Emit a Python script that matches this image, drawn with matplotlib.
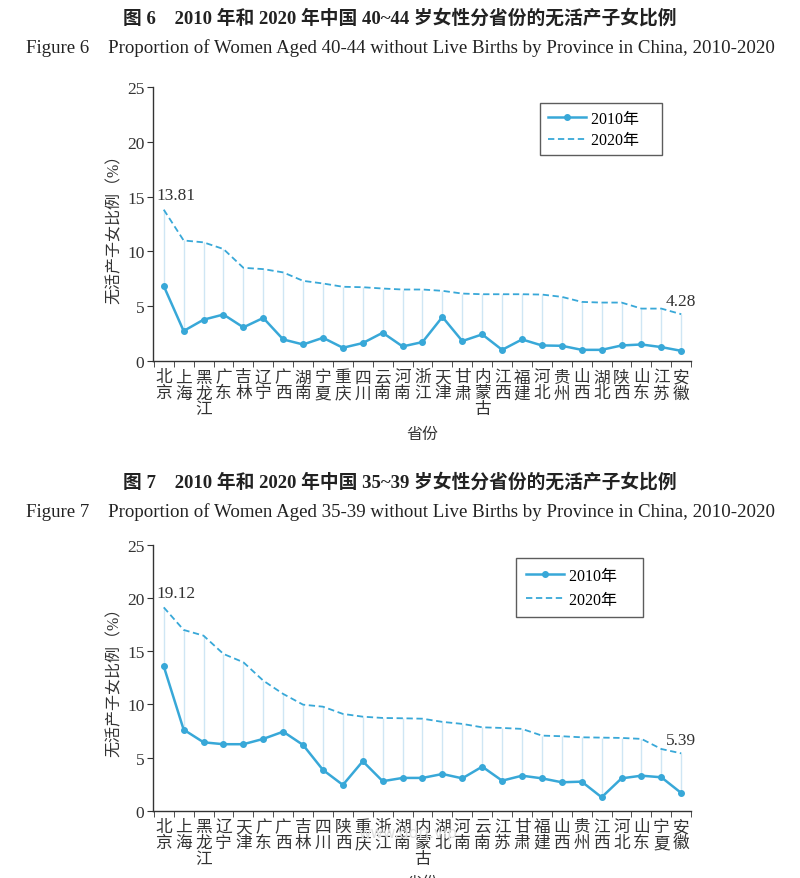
import numpy as np
import matplotlib.pyplot as plt

plt.rcParams['font.family'] = ['Liberation Serif', 'Noto Sans CJK SC', 'DejaVu Sans']

# figure 6: women aged 40-44
prov6 = ["北京", "上海", "黑龙江", "广东", "吉林", "辽宁", "广西", "湖南", "宁夏",
         "重庆", "四川", "云南", "河南", "浙江", "天津", "甘肃", "内蒙古", "江西",
         "福建", "河北", "贵州", "山西", "湖北", "陕西", "山东", "江苏", "安徽"]
v6_2010 = [6.85, 2.75, 3.78, 4.25, 3.08, 3.94, 1.98, 1.52, 2.13, 1.22, 1.65, 2.59, 1.34,
           1.74, 4.03, 1.83, 2.44, 1.03, 1.98, 1.43, 1.40, 1.03, 1.03, 1.43, 1.52, 1.28, 0.94]
v6_2020 = [13.81, 11.0, 10.83, 10.22, 8.51, 8.39, 8.09, 7.32, 7.08, 6.78, 6.74, 6.62, 6.53,
           6.53, 6.41, 6.16, 6.10, 6.10, 6.10, 6.07, 5.86, 5.40, 5.34, 5.34, 4.79, 4.79, 4.28]

# figure 7: women aged 35-39
prov7 = ["北京", "上海", "黑龙江", "辽宁", "天津", "广东", "广西", "吉林", "四川",
         "陕西", "重庆", "浙江", "湖南", "内蒙古", "湖北", "河南", "云南", "江苏",
         "甘肃", "福建", "山西", "贵州", "江西", "河北", "山东", "宁夏", "安徽"]
v7_2010 = [13.58, 7.62, 6.43, 6.25, 6.25, 6.75, 7.43, 6.18, 3.83, 2.42, 4.65, 2.77, 3.08,
           3.08, 3.45, 3.04, 4.14, 2.82, 3.29, 3.04, 2.67, 2.73, 1.26, 3.04, 3.29, 3.14, 1.66]
v7_2020 = [19.12, 17.0, 16.46, 14.74, 13.96, 12.23, 10.98, 9.97, 9.78, 9.10, 8.84, 8.72, 8.69,
           8.65, 8.35, 8.16, 7.84, 7.78, 7.69, 7.06, 7.00, 6.90, 6.87, 6.84, 6.75, 5.80, 5.39]

blue = '#38a8d8'
light = '#cfe6f4'
dark = '#333333'


def draw(ax, prov, a, b):
    x = np.arange(len(prov))
    ax.vlines(x, a, b, color=light, lw=1.0, zorder=1)
    ax.plot(x, a, color=blue, lw=1.8, marker='o', ms=4, label='2010年　', zorder=3)
    ax.plot(x, b, color=blue, lw=1.3, ls=(0, (3.5, 2)), label='2020年　', zorder=2)
    ax.set_xlim(-0.55, len(prov) - 0.5)
    ax.set_ylim(0, 25)
    ax.set_yticks([0, 5, 10, 15, 20, 25])
    ax.set_xticks(x)
    ax.set_xticklabels(['\n'.join(p) for p in prov], fontsize=12,
                       linespacing=1.0, color=dark, va='top')
    ax.set_xticks(np.arange(len(prov) + 1) - 0.5, minor=True)
    ax.tick_params(axis='x', which='major', length=0, pad=6)
    ax.tick_params(axis='x', which='minor', length=4, direction='out', color=dark)
    ax.tick_params(axis='y', length=4, direction='out', color=dark,
                   labelsize=12.5, labelcolor=dark, pad=2)
    for s in ['top', 'right']:
        ax.spines[s].set_visible(False)
    for s in ['left', 'bottom']:
        ax.spines[s].set_color(dark)
        ax.spines[s].set_linewidth(1.0)
    ax.set_ylabel('无活产子女比例（%）', fontsize=11.5, color=dark, labelpad=3)
    ax.set_xlabel('省份', fontsize=11.5, color=dark, labelpad=6)
    ax.text(-0.35, b[0] + 0.6, '{:.2f}'.format(b[0]), fontsize=12.5, color=dark,
            ha='left', va='bottom')
    ax.text(len(prov) - 1, b[-1] + 0.5, '{:.2f}'.format(b[-1]), fontsize=12.5,
            color=dark, ha='center', va='bottom')


fig = plt.figure(figsize=(8, 8.79), dpi=100)

ax1 = fig.add_axes([0.191, 0.588, 0.673, 0.312])
draw(ax1, prov6, v6_2010, v6_2020)
leg = ax1.legend(loc='upper left', bbox_to_anchor=(0.72, 0.94), fontsize=11.5,
                 frameon=True, fancybox=False, edgecolor=dark, handlelength=2.4,
                 borderpad=0.45, labelspacing=0.35, handletextpad=0.3,
                 borderaxespad=0)
leg.get_frame().set_linewidth(1.0)

ax2 = fig.add_axes([0.191, 0.0766, 0.673, 0.3024])
draw(ax2, prov7, v7_2010, v7_2020)
leg = ax2.legend(loc='upper left', bbox_to_anchor=(0.675, 0.95), fontsize=11.5,
                 frameon=True, fancybox=False, edgecolor=dark, handlelength=2.4,
                 borderpad=0.6, labelspacing=0.5, handletextpad=0.3,
                 borderaxespad=0)
leg.get_frame().set_linewidth(1.0)

fig.text(0.5, 0.979, '图 6　2010 年和 2020 年中国 40~44 岁女性分省份的无活产子女比例',
         ha='center', va='center', fontsize=13.5, fontweight='bold', color='#222222')
fig.text(0.5, 0.945, 'Figure 6　Proportion of Women Aged 40-44 without Live Births by Province in China, 2010-2020',
         ha='center', va='center', fontsize=13.6, color='#222222')
fig.text(0.5, 0.452, '图 7　2010 年和 2020 年中国 35~39 岁女性分省份的无活产子女比例',
         ha='center', va='center', fontsize=13.5, fontweight='bold', color='#222222')
fig.text(0.5, 0.418, 'Figure 7　Proportion of Women Aged 35-39 without Live Births by Province in China, 2010-2020',
         ha='center', va='center', fontsize=13.6, color='#222222')
fig.text(0.51, 0.052, 'www.ddrj.vip', ha='center', va='center', fontsize=11,
         color='#e0e0e0', family='DejaVu Sans', zorder=0)

fig.savefig('out.png', dpi=100)
